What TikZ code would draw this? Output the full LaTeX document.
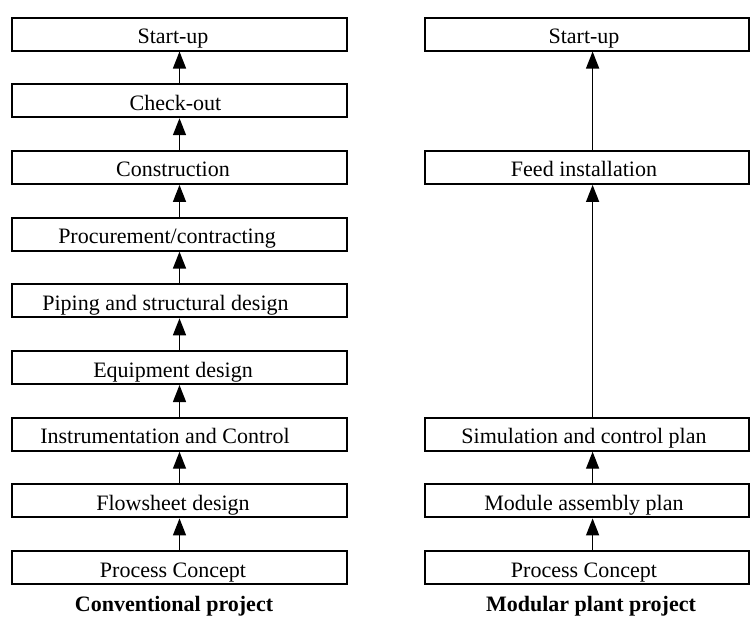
\documentclass[tikz,border=0pt]{standalone}
\usepackage{fontspec}
\setmainfont{Liberation Serif}
\usetikzlibrary{arrows.meta}
\tikzset{
  stage/.style={
    rectangle, draw=black, line width=1pt,
    minimum height=16.5pt, inner sep=0pt,
    text height=11pt, text depth=1.5pt,
    font=\fontsize{11}{13}\selectfont
  },
  % text sits a little left of the box centre
  stageL/.style={stage, minimum width=167.5pt,
    execute at end node={\hspace*{#1}}},
  stageL/.default=6.5pt,
  stageR/.style={stage, minimum width=162pt,
    execute at end node={\hspace*{3pt}}},
  stagearrow/.style={-{Triangle[length=8.5pt,width=6.5pt]}, line width=0.7pt},
  caption/.style={font=\fontsize{11}{13}\selectfont\bfseries}
}

\begin{document}
\begin{tikzpicture}[x=0.5pt,y=-0.5pt]
  \useasboundingbox (0,0) rectangle (751,617);

  % conventional project
  \node[stageL] (lstart) at (179.5,34)    {Start-up};
  \node[stageL=4pt] (lcheck) at (179.5,100.7) {Check-out};
  \node[stageL] (lconst) at (179.5,167.4) {Construction};
  \node[stageL=12.5pt] (lproc) at (179.5,234.1) {Procurement/contracting};
  \node[stageL=14pt] (lpipe) at (179.5,300.8) {Piping and structural design};
  \node[stageL] (lequip) at (179.5,367.5) {Equipment design};
  \node[stageL=14.5pt] (linst) at (179.5,434.2) {Instrumentation and Control};
  \node[stageL] (lflow)  at (179.5,500.9) {Flowsheet design};
  \node[stageL] (lconc)  at (179.5,567.6) {Process Concept};
  \node[caption] (lcap) at (174,606) {Conventional project};

  \draw[stagearrow] (lcheck.north) -- (lstart.south);
  \draw[stagearrow] (lconst.north) -- (lcheck.south);
  \draw[stagearrow] (lproc.north)  -- (lconst.south);
  \draw[stagearrow] (lpipe.north)  -- (lproc.south);
  \draw[stagearrow] (lequip.north) -- (lpipe.south);
  \draw[stagearrow] (linst.north)  -- (lequip.south);
  \draw[stagearrow] (lflow.north)  -- (linst.south);
  \draw[stagearrow] (lconc.north)  -- (lflow.south);

  % modular plant project
  \node[stageR] (rstart) at (587,34)    {Start-up};
  \node[stageR] (rfeed)  at (587,167.4) {Feed installation};
  \node[stageR] (rsim)   at (587,434.2) {Simulation and control plan};
  \node[stageR] (rmod)   at (587,500.9) {Module assembly plan};
  \node[stageR] (rconc)  at (587,567.6) {Process Concept};
  \node[caption] (rcap) at (591,606) {Modular plant project};

  \draw[stagearrow] ([xshift=2.8pt]rfeed.north) -- ([xshift=2.8pt]rstart.south);
  \draw[stagearrow] ([xshift=2.8pt]rsim.north)  -- ([xshift=2.8pt]rfeed.south);
  \draw[stagearrow] ([xshift=2.8pt]rmod.north)  -- ([xshift=2.8pt]rsim.south);
  \draw[stagearrow] ([xshift=2.8pt]rconc.north) -- ([xshift=2.8pt]rmod.south);
\end{tikzpicture}
\end{document}
